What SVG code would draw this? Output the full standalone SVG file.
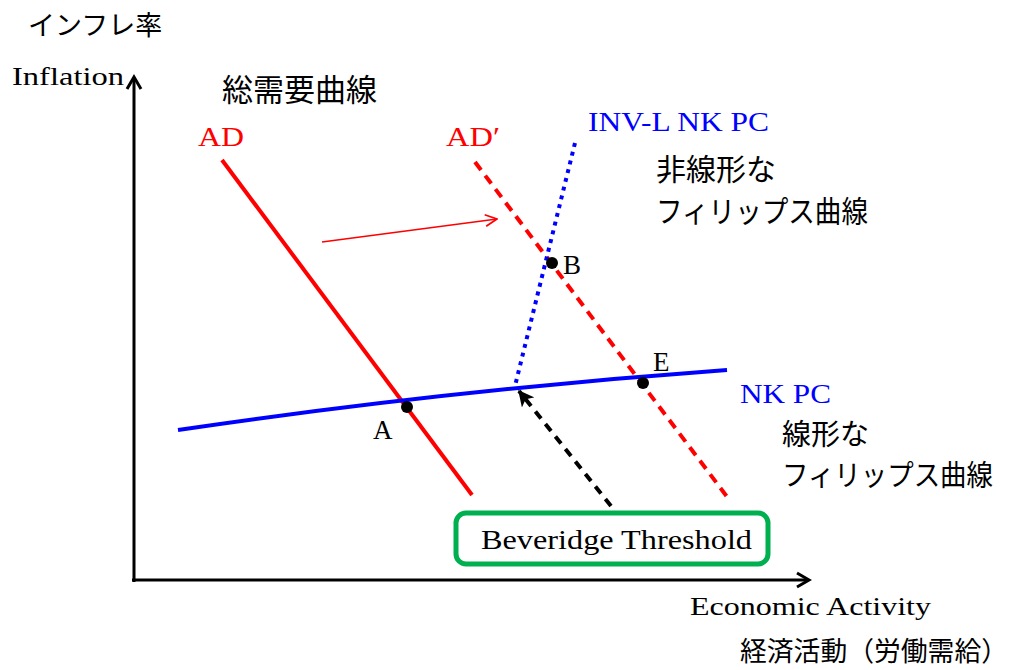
<svg xmlns="http://www.w3.org/2000/svg" width="1023" height="670" viewBox="0 0 1023 670">
<style>
.jp{font-family:"Noto Sans CJK JP","Noto Sans",sans-serif;fill:#000;}
.sr{font-family:"Liberation Serif","DejaVu Serif",serif;}
.axis{stroke:#000;stroke-width:3;fill:none;}
.dot{fill:#000;}
</style>
<defs>
<marker id="redopen" viewBox="0 0 12 12" refX="11" refY="6" markerWidth="14" markerHeight="14" markerUnits="userSpaceOnUse" orient="auto">
<path d="M1,1 L11,6 L1,11" fill="none" stroke="#ff0000" stroke-width="1.5"/>
</marker>
<marker id="fill" viewBox="0 0 12 12" refX="11" refY="6" markerWidth="16" markerHeight="16" markerUnits="userSpaceOnUse" orient="auto">
<path d="M0,0 L12,6 L0,12 L3,6 Z" fill="#000"/>
</marker>
</defs>
<g id="axes">
<line class="axis" x1="134" y1="582" x2="134" y2="78"/>
<path d="M127,89 L134,77 L141,89" class="axis"/>
<line class="axis" x1="132" y1="580" x2="808" y2="580"/>
<path d="M797,573 L809,580 L797,587" class="axis"/>
</g>
<g id="labels">
<text class="jp" x="28" y="35" font-size="27">インフレ率</text>
<text class="sr" x="12" y="85" font-size="25" fill="#000" textLength="112" lengthAdjust="spacingAndGlyphs">Inflation</text>
<text class="jp" x="222" y="101" font-size="31">総需要曲線</text>
<text class="sr" x="690" y="615" font-size="26" fill="#000" textLength="241" lengthAdjust="spacingAndGlyphs">Economic Activity</text>
<text class="jp" x="740" y="661" font-size="27" textLength="268" lengthAdjust="spacingAndGlyphs">経済活動（労働需給）</text>
<text class="jp" x="656" y="180" font-size="30">非線形な</text>
<text class="jp" x="656" y="222" font-size="30" textLength="212" lengthAdjust="spacingAndGlyphs">フィリップス曲線</text>
<text class="jp" x="782" y="445" font-size="29">線形な</text>
<text class="jp" x="782" y="486" font-size="29" textLength="211" lengthAdjust="spacingAndGlyphs">フィリップス曲線</text>
</g>
<g id="connectors">
<line x1="222" y1="160" x2="472" y2="495" stroke="#ff0000" stroke-width="4"/>
<line x1="475" y1="162" x2="728" y2="498" stroke="#ff0000" stroke-width="4" stroke-dasharray="10,7"/>
<line x1="575" y1="143" x2="515" y2="386" stroke="#0000ff" stroke-width="4" stroke-dasharray="4,5"/>
<path d="M178,430 Q450,390 727,370" fill="none" stroke="#0000ff" stroke-width="4"/>
<line x1="322" y1="242" x2="497" y2="219" stroke="#ff0000" stroke-width="1.5" marker-end="url(#redopen)"/>
<line x1="611" y1="506" x2="519" y2="391" stroke="#000" stroke-width="4" stroke-dasharray="9,7" marker-end="url(#fill)"/>
</g>
<g id="curve-labels">
<text class="sr" x="198" y="146" font-size="27" fill="#ff0000" textLength="46" lengthAdjust="spacingAndGlyphs">AD</text>
<text class="sr" x="446" y="146" font-size="27" fill="#ff0000" textLength="54" lengthAdjust="spacingAndGlyphs">AD′</text>
<text class="sr" x="588" y="131" font-size="27" fill="#0000ff" textLength="181" lengthAdjust="spacingAndGlyphs">INV-L NK PC</text>
<text class="sr" x="740" y="403" font-size="27" fill="#0000ff" textLength="91" lengthAdjust="spacingAndGlyphs">NK PC</text>
</g>
<g id="point-A">
<circle class="dot" cx="407" cy="407" r="6"/>
<text class="sr" x="373" y="439" font-size="27" fill="#000">A</text>
</g>
<g id="point-B">
<circle class="dot" cx="552" cy="263" r="6"/>
<text class="sr" x="563" y="274" font-size="27" fill="#000">B</text>
</g>
<g id="point-E">
<circle class="dot" cx="643" cy="383" r="6"/>
<text class="sr" x="653" y="371" font-size="27" fill="#000">E</text>
</g>
<g id="beveridge">
<rect x="456" y="513" width="312" height="51" rx="10" fill="#fff" stroke="#00b050" stroke-width="5"/>
<text class="sr" x="481" y="549" font-size="28" fill="#000" textLength="271" lengthAdjust="spacingAndGlyphs">Beveridge Threshold</text>
</g>
</svg>
